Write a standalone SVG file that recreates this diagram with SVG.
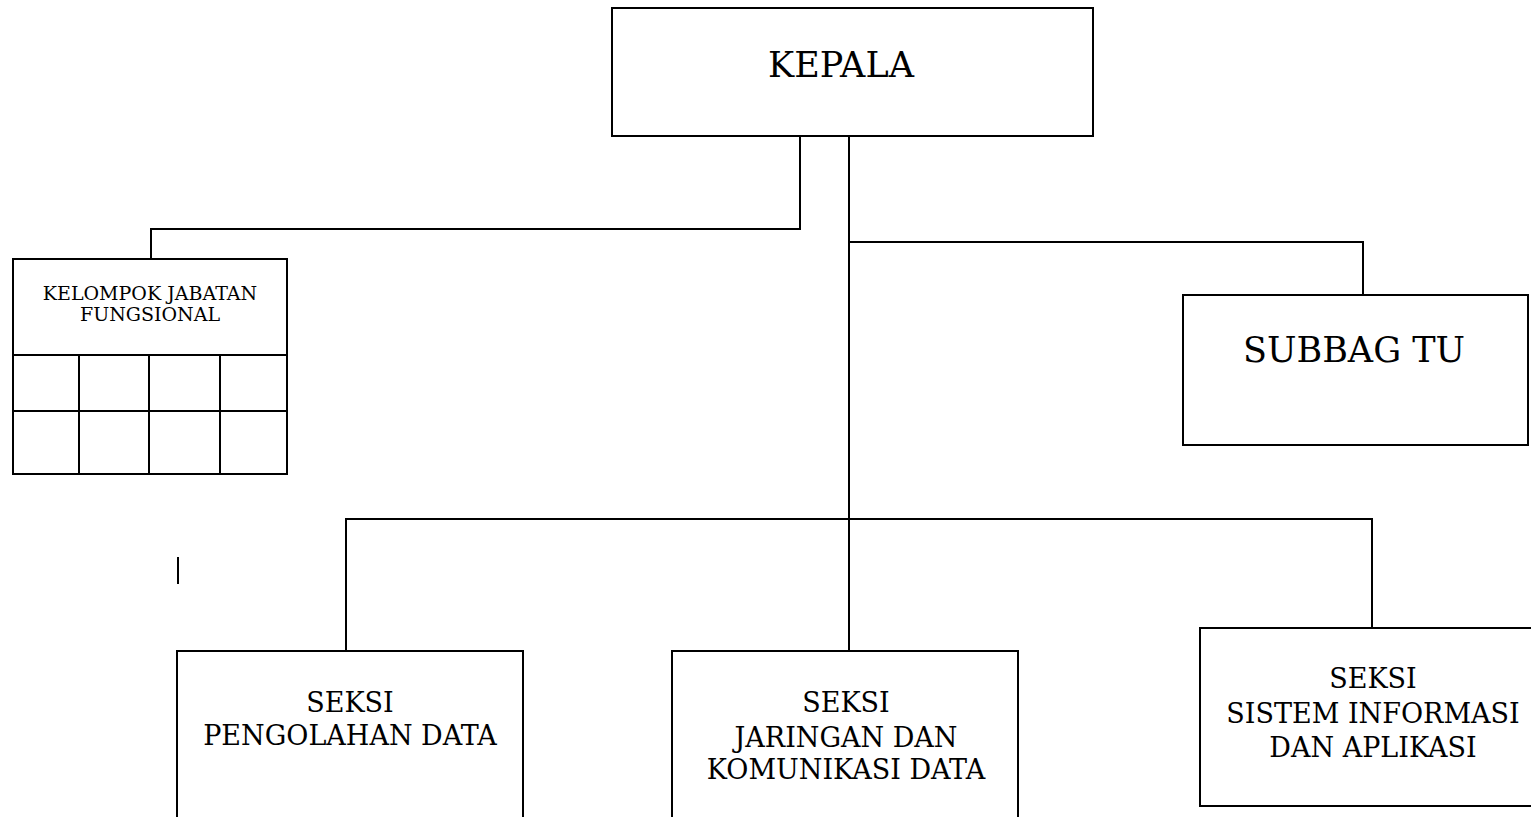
<svg xmlns="http://www.w3.org/2000/svg" width="1531" height="817" viewBox="0 0 1531 817">
<style>
.box{fill:#fff;stroke:#000;stroke-width:2}
.ln{fill:none;stroke:#000;stroke-width:2}
text{font-family:"DejaVu Serif","Liberation Serif",serif;fill:#000;text-anchor:middle}
.big{font-size:35px}
.mid{font-size:27px}
.sm{font-size:19px}
</style>
<rect width="1531" height="817" fill="#fff"/>
<g id="connectors">
<polyline class="ln" points="800,136 800,229 151,229 151,259"/>
<line class="ln" x1="849" y1="136" x2="849" y2="651"/>
<polyline class="ln" points="849,242 1363,242 1363,295"/>
<polyline class="ln" points="346,651 346,519 1372,519 1372,628"/>
<line class="ln" x1="178" y1="557" x2="178" y2="584"/>
</g>
<g id="kepala">
<rect class="box" x="612" y="8" width="481" height="128"/>
<text class="big" x="841" y="77">KEPALA</text>
</g>
<g id="kelompok">
<rect class="box" x="13" y="259" width="274" height="215"/>
<line class="ln" x1="13" y1="355" x2="287" y2="355"/>
<line class="ln" x1="13" y1="411" x2="287" y2="411"/>
<line class="ln" x1="79" y1="355" x2="79" y2="474"/>
<line class="ln" x1="149" y1="355" x2="149" y2="474"/>
<line class="ln" x1="220" y1="355" x2="220" y2="474"/>
<text class="sm" x="150" y="300">KELOMPOK JABATAN</text>
<text class="sm" x="150" y="321">FUNGSIONAL</text>
</g>
<g id="subbag">
<rect class="box" x="1183" y="295" width="345" height="150"/>
<text class="big" x="1354" y="362">SUBBAG TU</text>
</g>
<g id="pengolahan">
<path class="ln" d="M177,820 V651 H523 V820"/>
<text class="mid" x="350" y="712">SEKSI</text>
<text class="mid" x="350" y="745">PENGOLAHAN DATA</text>
</g>
<g id="jaringan">
<path class="ln" d="M672,820 V651 H1018 V820"/>
<text class="mid" x="846" y="712">SEKSI</text>
<text class="mid" x="846" y="747">JARINGAN DAN</text>
<text class="mid" x="846" y="779">KOMUNIKASI DATA</text>
</g>
<g id="sistem">
<path class="ln" d="M1535,628 H1200 V806 H1535"/>
<text class="mid" x="1373" y="688">SEKSI</text>
<text class="mid" x="1373" y="723">SISTEM INFORMASI</text>
<text class="mid" x="1373" y="757">DAN APLIKASI</text>
</g>
</svg>
